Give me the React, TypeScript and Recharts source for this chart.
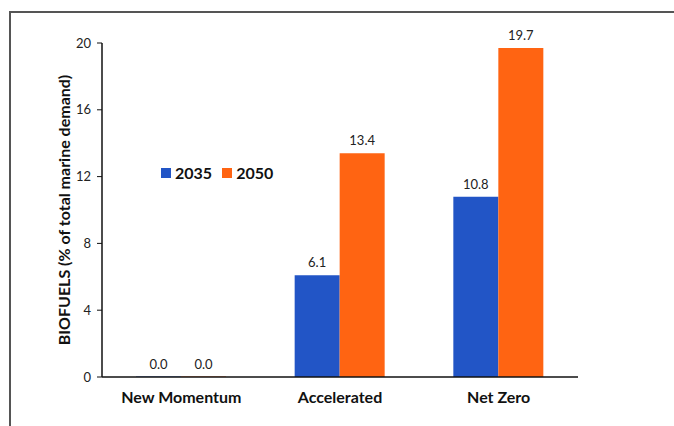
import { BarChart, Bar, XAxis, YAxis, Legend, Label } from "recharts";

const scenarios = ["New Momentum", "Accelerated", "Net Zero"];
const share2035 = [0.0, 6.1, 10.8];
const share2050 = [0.0, 13.4, 19.7];
const yTicks = [0, 4, 8, 12, 16, 20];

const BLUE = "#2255c6";
const ORANGE = "#ff6412";
const FONT = "Lato, 'Open Sans', sans-serif";

const data = scenarios.map((name, i) => ({ name, y2035: share2035[i], y2050: share2050[i] }));

function LegendBox({ payload }: any) {
  return (
    <div style={{ display: "flex", alignItems: "center", fontFamily: FONT, fontWeight: 700, fontSize: 16, color: "#111" }}>
      {(payload || []).map((p: any) => (
        <span key={p.value} style={{ display: "flex", alignItems: "center", marginRight: 10 }}>
          <span style={{ width: 10, height: 10, background: p.color, display: "inline-block", marginRight: 4 }} />
          {p.value}
        </span>
      ))}
    </div>
  );
}

// value label above each bar
function ValueLabel(props: any) {
  const { x, y, width, value } = props;
  if (value == null) return null;
  return (
    <text x={x + width / 2} y={y - 8} textAnchor="middle" fill="#222" fontSize={13} fontFamily={FONT}>
      {Number(value).toFixed(1)}
    </text>
  );
}

export default function App() {
  return (
    <div style={{ position: "absolute", left: 0, top: 0, width: 674, height: 426, background: "#fff", overflow: "hidden" }}>
      <div
        style={{
          position: "absolute",
          left: 9,
          top: 11,
          width: 700,
          height: 500,
          borderTop: "2px solid #555",
          borderLeft: "2px solid #555",
        }}
      />
      <div style={{ position: "absolute", left: 0, top: 0 }}>
        <BarChart
          width={674}
          height={426}
          data={data}
          margin={{ top: 43, right: 96, left: 0, bottom: 19 }}
          barGap={0}
          barCategoryGap="21.5%"
        >
          <Legend
            content={<LegendBox />}
            layout="horizontal"
            verticalAlign="middle"
            align="center"
            wrapperStyle={{ position: "absolute", left: 161, top: 163, width: 140 }}
          />
          {/* minPointSize keeps the zero bars (hidden under the axis) so their labels draw */}
          <Bar dataKey="y2035" name="2035" fill={BLUE} barSize={45} minPointSize={0.5} isAnimationActive={false} label={<ValueLabel />} />
          <Bar dataKey="y2050" name="2050" fill={ORANGE} barSize={45} minPointSize={0.5} isAnimationActive={false} label={<ValueLabel />} />
          <XAxis
            dataKey="name"
            axisLine={{ stroke: "#111", strokeWidth: 1.5 }}
            tickLine={false}
            tickSize={0}
            tickMargin={15}
            height={30}
            tick={{ fill: "#111", fontSize: 16, fontWeight: 700, fontFamily: FONT }}
          />
          <YAxis
            width={102}
            domain={[0, 20]}
            ticks={yTicks}
            interval={0}
            axisLine={{ stroke: "#111", strokeWidth: 1.5 }}
            tickLine={{ stroke: "#111" }}
            tickSize={5}
            tickMargin={6}
            tick={{ fill: "#222", fontSize: 13, fontFamily: FONT }}
          >
            <Label
              value="BIOFUELS (% of total marine demand)"
              angle={-90}
              position="insideLeft"
              offset={64}
              style={{ textAnchor: "middle", fill: "#111", fontSize: 16, fontWeight: 700, fontFamily: FONT }}
            />
          </YAxis>
        </BarChart>
      </div>
    </div>
  );
}
